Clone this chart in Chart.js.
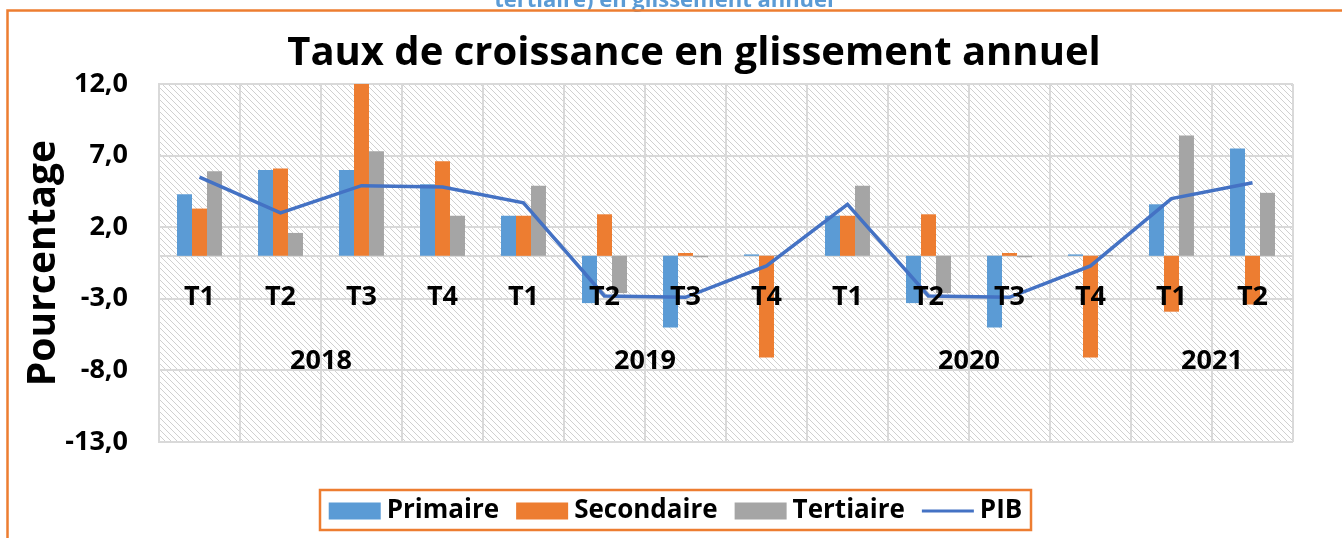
<!DOCTYPE html>
<html>
<head>
<meta charset="utf-8">
<script src="https://cdn.jsdelivr.net/npm/chart.js@4.4.0/dist/chart.umd.min.js"></script>
<style>
  html, body { margin: 0; padding: 0; background: #fff; }
  #canvas-container { width: 1342px; height: 538px; }
</style>
</head>
<body>
<div id="canvas-container"><canvas id="mycanvas" width="1342" height="538"></canvas></div>
<script>
// quarters along the x axis, grouped by year
const quarters = ["T1", "T2", "T3", "T4", "T1", "T2", "T3", "T4", "T1", "T2", "T3", "T4", "T1", "T2"];
const years = ["2018", "2019", "2020", "2021"];
const yearFirst = [0, 4, 8, 12];
const yearLast = [3, 7, 11, 13];

// growth rates in %
const primaire   = [4.3, 6.0, 6.0, 5.0, 2.8, -3.3, -5.0, 0.1, 2.8, -3.3, -5.0, 0.1, 3.6, 7.5];
const secondaire = [3.3, 6.1, 14.0, 6.6, 2.8, 2.9, 0.2, -7.1, 2.8, 2.9, 0.2, -7.1, -3.9, -3.4];
const tertiaire  = [5.9, 1.6, 7.3, 2.8, 4.9, -2.6, -0.1, 0.05, 4.9, -2.6, -0.1, 0.05, 8.4, 4.4];
const pib        = [5.5, 3.0, 4.9, 4.8, 3.7, -2.8, -2.9, -0.7, 3.6, -2.8, -2.9, -0.7, 4.0, 5.1];

const yTicks = [-13, -8, -3, 2, 7, 12];

const FONT = "'Open Sans', sans-serif";
Chart.defaults.font.family = FONT;
Chart.defaults.color = "#000";

// light diagonal hatch behind the plot
function makeHatch() {
  let c = document.createElement("canvas");
  c.width = 6; c.height = 6;
  let g = c.getContext("2d");
  g.fillStyle = "#fff";
  g.fillRect(0, 0, 6, 6);
  g.strokeStyle = "#d0d0d0";
  g.lineWidth = 1;
  g.beginPath();
  g.moveTo(-1, -1); g.lineTo(7, 7);
  g.moveTo(-1, 5); g.lineTo(1, 7);
  g.moveTo(5, -1); g.lineTo(7, 1);
  g.stroke();
  return g.createPattern(c, "repeat");
}

const hatchPlugin = {
  id: "hatch",
  beforeDraw(chart) {
    const {ctx, chartArea: a} = chart;
    ctx.save();
    ctx.fillStyle = "#fff";
    ctx.fillRect(0, 0, chart.width, chart.height);
    ctx.fillStyle = makeHatch();
    ctx.fillRect(a.left, a.top, a.right - a.left, a.bottom - a.top);
    ctx.restore();
  }
};

// legend order: bars first, then PIB
const legendOrder = [1, 2, 3, 0];

const extrasPlugin = {
  id: "extras",
  afterDraw(chart) {
    const ctx = chart.ctx;
    const xs = chart.scales.x, ys = chart.scales.y;
    ctx.save();

    // title
    ctx.font = "bold 40px " + FONT;
    ctx.fillStyle = "#000";
    ctx.textAlign = "center";
    ctx.textBaseline = "middle";
    ctx.fillText("Taux de croissance en glissement annuel", 694, 54);

    // year labels under the quarter labels
    ctx.font = "bold 27px " + FONT;
    const y0 = ys.getPixelForValue(0);
    years.forEach((yr, i) => {
      const xm = (xs.getPixelForValue(yearFirst[i]) + xs.getPixelForValue(yearLast[i])) / 2;
      ctx.fillText(yr, xm, y0 + 105);
    });

    // cut-off caption at the very top
    ctx.font = "bold 22px " + FONT;
    ctx.fillStyle = "#5b9bd5";
    ctx.textBaseline = "alphabetic";
    ctx.fillText("tertiaire) en glissement annuel", 664, 7);

    // orange frame
    ctx.strokeStyle = "#ed7d31";
    ctx.lineWidth = 2.5;
    ctx.beginPath();
    ctx.moveTo(7.5, 538);
    ctx.lineTo(7.5, 10.5);
    ctx.lineTo(1342, 10.5);
    ctx.stroke();

    // legend
    ctx.font = "bold 26px " + FONT;
    const items = legendOrder.map(k => {
      const ds = chart.data.datasets[k];
      return {
        label: ds.label,
        color: ds.type === "line" ? ds.borderColor : ds.backgroundColor,
        line: ds.type === "line"
      };
    });
    const sw = 52, gap = 6, itemGap = 17;
    let total = 0;
    items.forEach((it, i) => {
      it.w = ctx.measureText(it.label).width;
      total += sw + gap + it.w + (i < items.length - 1 ? itemGap : 0);
    });
    const boxL = 320, boxR = 1031, boxT = 490, boxB = 530;
    let x = (boxL + boxR) / 2 - total / 2;
    const cy = (boxT + boxB) / 2 + 1;
    ctx.textAlign = "left";
    ctx.textBaseline = "middle";
    items.forEach(it => {
      if (it.line) {
        ctx.strokeStyle = it.color;
        ctx.lineWidth = 3;
        ctx.beginPath();
        ctx.moveTo(x, cy);
        ctx.lineTo(x + sw, cy);
        ctx.stroke();
      } else {
        ctx.fillStyle = it.color;
        ctx.fillRect(x, cy - 8.5, sw, 17);
      }
      x += sw + gap;
      ctx.fillStyle = "#000";
      ctx.fillText(it.label, x, cy);
      x += it.w + itemGap;
    });
    ctx.strokeStyle = "#ed7d31";
    ctx.lineWidth = 2.5;
    ctx.strokeRect(boxL, boxT, boxR - boxL, boxB - boxT);

    ctx.restore();
  }
};

let canvas = document.getElementById("mycanvas");

let chartData = {
  labels: quarters,
  datasets: [
    { type: "line", label: "PIB", data: pib, borderColor: "#4472c4", borderWidth: 3.5,
      pointRadius: 0, tension: 0, fill: false, order: 0 },
    { type: "bar", label: "Primaire", data: primaire, backgroundColor: "#5b9bd5", order: 1 },
    { type: "bar", label: "Secondaire", data: secondaire, backgroundColor: "#ed7d31", order: 1 },
    { type: "bar", label: "Tertiaire", data: tertiaire, backgroundColor: "#a5a5a5", order: 1 }
  ]
};

let chartOptions = {
  responsive: false,
  animation: false,
  devicePixelRatio: 1,
  layout: { padding: { left: 0, right: 49, top: 84, bottom: 96 } },
  datasets: {
    bar: { categoryPercentage: 0.555, barPercentage: 1.0 }
  },
  plugins: {
    legend: { display: false },
    tooltip: { enabled: false },
    title: { display: false }
  },
  scales: {
    x: {
      position: { y: 0 },
      offset: true,
      grid: { offset: true, color: "#d9d9d9", lineWidth: 2, drawTicks: false },
      border: { color: "#d9d9d9", width: 2 },
      ticks: { font: { size: 27, weight: "bold" }, color: "#000", padding: 25,
               maxRotation: 0, autoSkip: false, z: 1 }
    },
    y: {
      min: -13,
      max: 12,
      afterBuildTicks: (s) => { s.ticks = yTicks.map(v => ({ value: v })); },
      afterFit: (s) => { s.width = 159; },
      grid: { color: "#d9d9d9", lineWidth: 2, drawTicks: false },
      border: { color: "#d9d9d9", width: 2 },
      ticks: {
        font: { size: 27, weight: "bold" }, color: "#000", padding: 31,
        callback: (v) => v.toFixed(1).replace(".", ",")
      },
      title: {
        display: true, text: "Pourcentage", color: "#000",
        font: { size: 39, weight: "bold" }, padding: { top: 20, bottom: 0 }
      }
    }
  }
};

let chart = new Chart(canvas, {
  data: chartData,
  options: chartOptions,
  plugins: [hatchPlugin, extrasPlugin]
});
</script>
</body>
</html>
